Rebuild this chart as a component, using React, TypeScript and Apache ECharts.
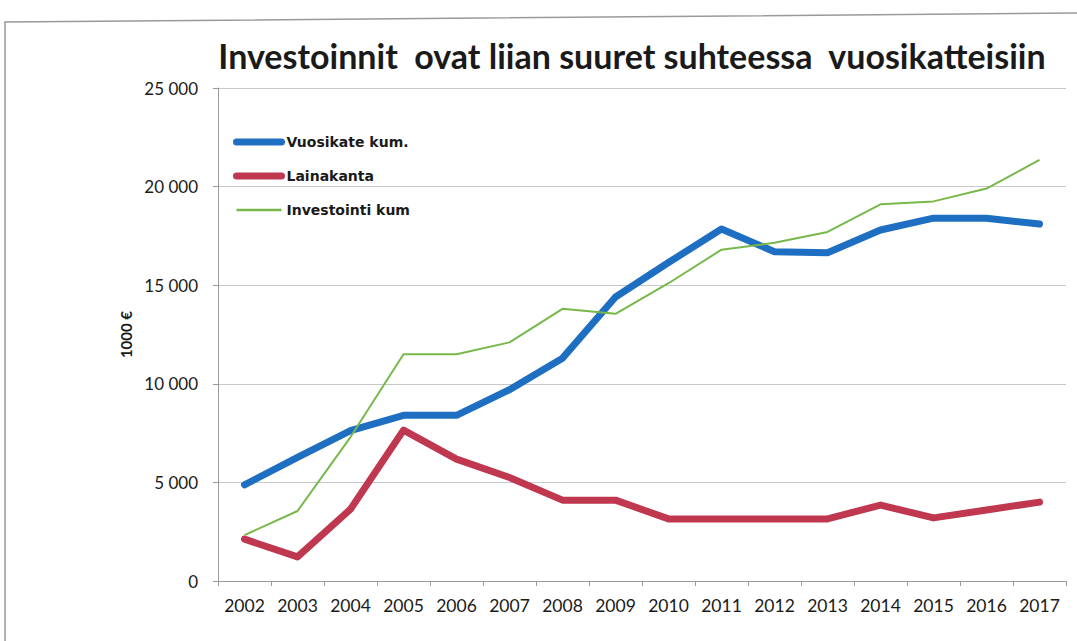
import React, { useEffect, useRef } from "react";
import * as echarts from "echarts";

const years = ["2002","2003","2004","2005","2006","2007","2008","2009","2010","2011","2012","2013","2014","2015","2016","2017"];
const vuosikateKum = [4880, 6270, 7620, 8400, 8400, 9700, 11300, 14400, 16150, 17850, 16700, 16650, 17800, 18400, 18400, 18100];
const lainakanta = [2120, 1220, 3640, 7650, 6180, 5250, 4100, 4100, 3150, 3150, 3150, 3150, 3850, 3200, 3600, 4000];
const investointiKum = [2330, 3550, 7300, 11500, 11500, 12100, 13800, 13550, 15100, 16800, 17150, 17700, 19100, 19250, 19900, 21350];
const titleText = "Investoinnit  ovat liian suuret suhteessa  vuosikatteisiin";
const yAxisName = "1000 €";

export default function App() {
  const ref = useRef<HTMLDivElement>(null);
  useEffect(() => {
    if (!ref.current) return;
    const chart = echarts.init(ref.current, undefined, { renderer: "svg" });
    const fmt = (v: number) => {
      const s = String(Math.round(v));
      return s.length > 3 ? s.slice(0, s.length - 3) + " " + s.slice(s.length - 3) : s;
    };
    const blue = "#1E6FC2";
    const red = "#BF3850";
    const green = "#78B84A";
    chart.setOption({
      animation: false,
      backgroundColor: "#ffffff",
      title: {
        text: titleText,
        left: 627,
        top: 33,
        textAlign: "center",
        textStyle: { fontFamily: "Lato, sans-serif", fontWeight: "bold", fontSize: 34, color: "#1a1a1a" },
      },
      graphic: [
        {
          type: "polyline",
          shape: { points: [[5, 641], [5, 22], [1077, 13]] },
          style: { stroke: "#9a9a9a", lineWidth: 1.5, fill: "none" },
          silent: true,
        },
      ],
      legend: {
        orient: "vertical",
        left: 228,
        top: 130,
        itemWidth: 45,
        itemHeight: 14,
        itemGap: 20,
        textStyle: { fontFamily: "DejaVu Sans, sans-serif", fontWeight: "bold", fontSize: 14, color: "#1a1a1a" },
        data: [
          { name: "Vuosikate kum.", itemStyle: { opacity: 0 }, lineStyle: { width: 7, color: blue, cap: "round" } },
          { name: "Lainakanta", itemStyle: { opacity: 0 }, lineStyle: { width: 7, color: red, cap: "round" } },
          { name: "Investointi kum", itemStyle: { opacity: 0 }, lineStyle: { width: 2.5, color: green } },
        ],
      },
      grid: { left: 218, right: 11, top: 88, bottom: 60 },
      xAxis: {
        type: "category",
        data: years,
        boundaryGap: true,
        axisLine: { lineStyle: { color: "#9a9a9a" } },
        axisTick: { show: true, alignWithLabel: false, length: 5, lineStyle: { color: "#9a9a9a" } },
        axisLabel: { fontFamily: "Lato, sans-serif", fontSize: 17.5, color: "#1a1a1a", margin: 15 },
      },
      yAxis: {
        type: "value",
        min: 0,
        max: 25000,
        interval: 5000,
        name: yAxisName,
        nameLocation: "middle",
        nameGap: 80,
        nameRotate: 90,
        nameTextStyle: { fontFamily: "Lato, sans-serif", fontWeight: "bold", fontSize: 15, color: "#1a1a1a" },
        axisLine: { show: true, lineStyle: { color: "#9a9a9a" } },
        axisTick: { show: true, length: 5, lineStyle: { color: "#9a9a9a" } },
        axisLabel: { fontFamily: "Lato, sans-serif", fontSize: 17, color: "#1a1a1a", margin: 20, formatter: fmt },
        splitLine: { lineStyle: { color: "#c8c8c8", width: 1.2 } },
      },
      series: [
        {
          name: "Vuosikate kum.",
          type: "line",
          data: vuosikateKum,
          symbol: "none",
          color: blue,
          lineStyle: { width: 7, color: blue, cap: "round", join: "round" },
          z: 3,
        },
        {
          name: "Lainakanta",
          type: "line",
          data: lainakanta,
          symbol: "none",
          color: red,
          lineStyle: { width: 7, color: red, cap: "round", join: "round" },
          z: 2,
        },
        {
          name: "Investointi kum",
          type: "line",
          data: investointiKum,
          symbol: "none",
          color: green,
          lineStyle: { width: 2, color: green },
          z: 4,
        },
      ],
    });
    return () => chart.dispose();
  }, []);
  return <div ref={ref} style={{ position: "fixed", left: 0, top: 0, width: 1077, height: 641 }} />;
}
